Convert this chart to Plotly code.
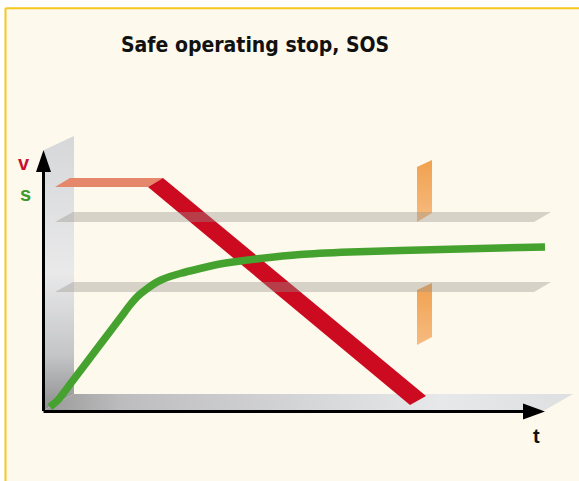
import plotly.graph_objects as go

# ---- diagram data (diagram units: x to the right, y downward, origin top-left) ----
title_text = "Safe operating stop, SOS"

# position s(t) – centre line of the green band
s_x = [50, 58, 71, 96, 121, 130, 138, 146, 153, 161, 170, 180, 200, 215, 233, 260, 300, 350, 400, 480, 545]
s_y = [407, 400, 383, 350, 317, 305, 296, 289.5, 284.5, 280, 276.5, 273.5, 268.5, 265, 262, 258.5, 254.5, 252, 250.5, 248.5, 247]

# velocity v(t): constant plateau (salmon) then linear ramp down (red band)
v_plateau_x = [55, 70, 163, 148]
v_plateau_y = [187, 178, 178, 187]
v_ramp_x = [148, 163, 426, 410]
v_ramp_y = [187, 178, 396, 405]

# limit planes (grey)
plane_upper_x = [55, 73, 551, 534]
plane_upper_y = [222, 212, 212, 222]
plane_lower_x = [55, 73, 551, 534]
plane_lower_y = [292, 282, 282, 292]

# stop monitoring window markers (orange)
marker_upper_x = [417, 432, 432, 417]
marker_upper_y = [167, 160, 213, 222]
marker_lower_x = [417, 432, 432, 417]
marker_lower_y = [290, 283, 337, 345]

# pseudo-3D walls
wall_x = [44, 74, 74, 44]
wall_y = [150, 136, 394, 410]
floor_x = [44, 74, 573, 545]
floor_y = [410, 394, 394, 410]

# axes
v_axis_x = [43.5, 43.5]
v_axis_y = [411, 170]
v_head_x = [36, 43.5, 51]
v_head_y = [172, 150, 172]
t_axis_x = [43.5, 525]
t_axis_y = [411.5, 411.5]
t_head_x = [523, 545, 523]
t_head_y = [403.5, 411.5, 419.5]

BG = "#fdf9ec"
RED = "#cc0a20"
GREEN = "#45a22e"
SALMON = "#e4876b"
PLANE = "rgba(150,148,140,0.38)"

fig = go.Figure()


def poly(xs, ys, color=None, grad=None):
    kw = dict(x=xs + [xs[0]], y=ys + [ys[0]], mode="lines", fill="toself",
              line=dict(width=0, color="rgba(0,0,0,0)"), hoverinfo="skip",
              showlegend=False)
    if grad is not None:
        kw["fillgradient"] = grad
        kw["fillcolor"] = color or "#cccccc"
    else:
        kw["fillcolor"] = color
    fig.add_trace(go.Scatter(**kw))


# walls
poly(wall_x, wall_y, grad=dict(type="vertical",
                               colorscale=[[0, "#d6d7d9"], [0.5, "#e9e9ea"], [0.8, "#c4c5c7"], [1, "#8e8e8e"]],
                               start=136, stop=410))
poly(floor_x, floor_y, grad=dict(type="horizontal",
                                 colorscale=[[0, "#999999"], [0.15, "#bdbdbf"], [0.75, "#e7e8ea"], [1, "#dedfe1"]],
                                 start=44, stop=573))

# velocity profile
poly(v_plateau_x, v_plateau_y, SALMON)
poly(v_ramp_x, v_ramp_y, RED)

# orange markers
grad_o1 = dict(type="vertical", colorscale=[[0, "#f1a14f"], [1, "#f6bb80"]], start=160, stop=222)
grad_o2 = dict(type="vertical", colorscale=[[0, "#f1a14f"], [1, "#f6bb80"]], start=283, stop=345)
poly(marker_upper_x, marker_upper_y, grad=grad_o1)
poly(marker_lower_x, marker_lower_y, grad=grad_o2)

# grey planes
poly(plane_upper_x, plane_upper_y, PLANE)
poly(plane_lower_x, plane_lower_y, PLANE)

# position curve
fig.add_trace(go.Scatter(x=s_x, y=s_y, mode="lines",
                         line=dict(color=GREEN, width=7.5, shape="spline", smoothing=0.6),
                         hoverinfo="skip", showlegend=False))

# axes
fig.add_trace(go.Scatter(x=v_axis_x, y=v_axis_y, mode="lines", line=dict(color="black", width=3),
                         hoverinfo="skip", showlegend=False))
fig.add_trace(go.Scatter(x=t_axis_x, y=t_axis_y, mode="lines", line=dict(color="black", width=3),
                         hoverinfo="skip", showlegend=False))
poly(v_head_x, v_head_y, "black")
poly(t_head_x, t_head_y, "black")

# labels
fig.add_annotation(x=255, y=45, text="<b>" + title_text + "</b>", showarrow=False,
                   font=dict(family="DejaVu Sans Condensed, DejaVu Sans, sans-serif",
                             size=21, color="#111111"))
fig.add_annotation(x=24, y=163, text="<b>v</b>", showarrow=False,
                   font=dict(family="Liberation Sans, Arial, sans-serif", size=20, color="#c8102e"))
fig.add_annotation(x=25, y=194, text="<b>s</b>", showarrow=False,
                   font=dict(family="Liberation Sans, Arial, sans-serif", size=20, color="#3f9b2c"))
fig.add_annotation(x=536, y=436, text="<b>t</b>", showarrow=False,
                   font=dict(family="Liberation Sans, Arial, sans-serif", size=20, color="#111111"))

# frame: white outside, yellow border
fig.add_shape(type="rect", x0=0, x1=579, y0=0, y1=7.5, fillcolor="white", line_width=0, layer="below")
fig.add_shape(type="rect", x0=0, x1=4.5, y0=0, y1=481, fillcolor="white", line_width=0, layer="below")
fig.add_shape(type="line", x0=5.5, x1=579, y0=8.3, y1=8.3, line=dict(color="#f6c81e", width=2))
fig.add_shape(type="line", x0=5.5, x1=5.5, y0=8.3, y1=481, line=dict(color="#f6c81e", width=2))

fig.update_layout(
    width=579, height=481, margin=dict(l=0, r=0, t=0, b=0),
    paper_bgcolor=BG, plot_bgcolor=BG,
    xaxis=dict(range=[0, 579], visible=False, fixedrange=True),
    yaxis=dict(range=[481, 0], visible=False, fixedrange=True),
    showlegend=False,
)

fig.write_html("out.html", config={"displayModeBar": False},
               post_script="document.body.style.margin='0';document.body.style.overflow='hidden';")
